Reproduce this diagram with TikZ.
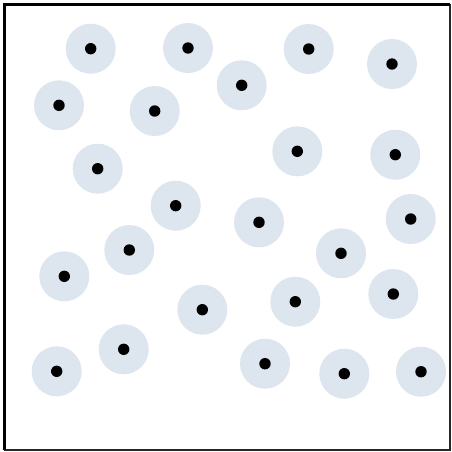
\documentclass[tikz,border=0pt]{standalone}
\usepackage{tikz}
\definecolor{halo}{HTML}{DDE5EF}

\begin{document}
\begin{tikzpicture}[
    x=1pt, y=-1pt,
    halobox/.style={circle, fill=halo, minimum size=50pt, inner sep=0pt},
    dotbox/.style={circle, fill=black, minimum size=11.4pt, inner sep=0pt},
    frame/.style={draw=black, line width=3pt},
    thinframe/.style={draw=black!85, line width=1.4pt}
  ]
    % Page size
    \useasboundingbox (0,0) rectangle (452,451);

    % Outer frame: heavy left and top, light right and bottom
    \coordinate (tl) at (4.2,4.2);
    \coordinate (tr) at (450,4.2);
    \coordinate (bl) at (4.2,450);
    \coordinate (br) at (450,450);
    \draw[thinframe] (tr) -- (br) -- (bl);
    \draw[frame] (bl) -- (tl) -- (tr);

    % Points with their halos
    \foreach \px/\py [count=\i] in {
        90.7/48.7, 188/48, 308.7/49, 392/64, 59/105.3, 154.7/111,
        241.7/85.3, 97.7/168.7, 297.3/151.3, 395.3/154.7, 175.7/205.7,
        259/222.3, 410.7/219, 129.3/250, 341/253.3, 64.3/276.3,
        202.3/309.7, 295.3/301.7, 393.3/294, 123.7/349.3, 56.7/371.3,
        265/363.7, 344.3/373.7, 421/371.7} {
      \node[halobox] (halo\i) at (\px,\py) {};
      \node[dotbox] (pt\i) at (halo\i.center) {};
    }
\end{tikzpicture}
\end{document}
